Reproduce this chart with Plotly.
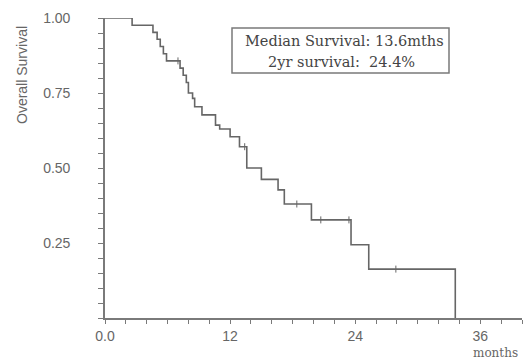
import plotly.graph_objects as go

# Kaplan-Meier step curve (months, survival after the event)
months = [0, 2.6, 4.6, 5.0, 5.3, 5.6, 5.9, 7.2, 7.5, 7.8, 8.0, 8.4, 8.6, 9.3,
          10.6, 11.0, 12.0, 12.9, 13.6, 15.0, 16.6, 17.2, 19.8, 23.6, 25.3, 33.6]
survival = [1.0, 0.976, 0.952, 0.929, 0.905, 0.881, 0.857, 0.833, 0.809, 0.785,
            0.75, 0.732, 0.704, 0.677, 0.643, 0.63, 0.604, 0.571, 0.50, 0.462,
            0.427, 0.38, 0.327, 0.244, 0.163, 0.0]

# censored observations
cens_months = [7.0, 13.4, 18.4, 20.7, 23.4, 27.9]
cens_surv = [0.857, 0.571, 0.38, 0.327, 0.327, 0.163]

x_tickvals = [0, 12, 24, 36]
x_ticktext = ["0.0", "12", "24", "36"]
y_tickvals = [0.25, 0.5, 0.75, 1.0]
y_ticktext = ["0.25", "0.50", "0.75", "1.00"]

box_lines = ["Median Survival: 13.6mths", "2yr survival:\u00a0 24.4%"]

AX = "#7a7a7a"
TXT = "#666666"

fig = go.Figure()
fig.add_trace(go.Scatter(x=months, y=survival, mode="lines",
                         line=dict(shape="hv", color="#666666", width=1.6),
                         cliponaxis=False, hoverinfo="skip"))
fig.add_trace(go.Scatter(x=cens_months, y=cens_surv, mode="markers",
                         marker=dict(symbol="line-ns", size=5,
                                     line=dict(color="#666666", width=1)),
                         cliponaxis=False, hoverinfo="skip"))

fig.update_layout(
    width=523, height=361,
    margin=dict(l=105, r=1, t=18, b=43),
    paper_bgcolor="white", plot_bgcolor="white",
    showlegend=False,
    font=dict(family="Liberation Sans", color=TXT),
)
fig.update_xaxes(range=[0, 40], showgrid=False, zeroline=False,
                 showline=True, linecolor=AX, linewidth=1.6,
                 tickvals=x_tickvals, ticktext=x_ticktext,
                 ticks="outside", ticklen=4, tickcolor=AX, tickwidth=1.2,
                 tickfont=dict(family="Liberation Sans", size=14, color=TXT),
                 ticklabelstandoff=0,
                 minor=dict(tickvals=list(range(0, 41, 2)), ticks="outside",
                            ticklen=4, tickcolor=AX, tickwidth=1.2))
fig.update_yaxes(range=[0, 1], showgrid=False, zeroline=False,
                 showline=True, linecolor=AX, linewidth=1.6,
                 tickvals=y_tickvals, ticktext=y_ticktext,
                 ticks="outside", ticklen=5, tickcolor=AX, tickwidth=1.2,
                 tickfont=dict(family="Liberation Sans", size=14, color=TXT),
                 ticklabelstandoff=25,
                 minor=dict(tickvals=[i * 0.05 for i in range(21)], ticks="outside",
                            ticklen=5, tickcolor=AX, tickwidth=1.2))

# y axis title
fig.add_annotation(text="Overall Survival", xref="paper", yref="paper",
                   x=(22 - 105) / 417, y=(318 - 75) / 300, textangle=-90,
                   xanchor="center", yanchor="middle",
                   showarrow=False, font=dict(family="Liberation Sans", size=14, color=TXT))
# x axis unit label
fig.add_annotation(text="months", xref="paper", yref="paper",
                   x=(495 - 105) / 417, y=(318 - 353) / 300, showarrow=False,
                   xanchor="center", yanchor="middle",
                   font=dict(family="DejaVu Serif", size=12, color=TXT))

# info box
fig.add_shape(type="rect", xref="paper", yref="paper",
              x0=(232 - 105) / 417, x1=(449 - 105) / 417,
              y0=(318 - 73) / 300, y1=(318 - 28) / 300,
              line=dict(color=AX, width=1.5))
fig.add_annotation(text=box_lines[0], xref="paper", yref="paper",
                   x=(344 - 105) / 417, y=(318 - 41) / 300, showarrow=False,
                   xanchor="center", yanchor="middle",
                   font=dict(family="DejaVu Serif", size=14.5, color="#444444"))
fig.add_annotation(text=box_lines[1], xref="paper", yref="paper",
                   x=(341 - 105) / 417, y=(318 - 62) / 300, showarrow=False,
                   xanchor="center", yanchor="middle",
                   font=dict(family="DejaVu Serif", size=14.5, color="#444444"))

fig.write_html("out.html", config={"displayModeBar": False},
               post_script="document.body.style.margin='0';")
